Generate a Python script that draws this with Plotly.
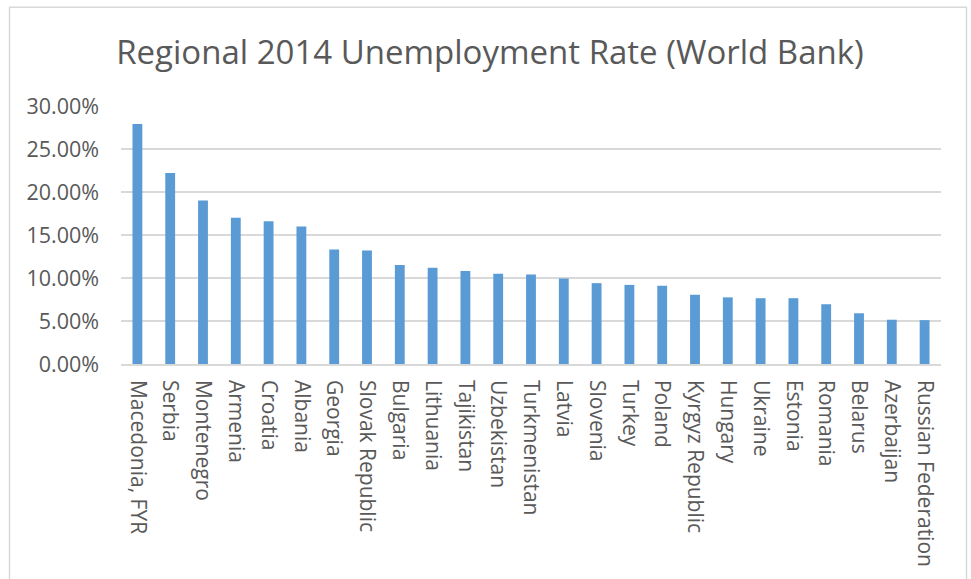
import plotly.graph_objects as go

countries = ["Macedonia, FYR", "Serbia", "Montenegro", "Armenia", "Croatia", "Albania",
             "Georgia", "Slovak Republic", "Bulgaria", "Lithuania", "Tajikistan",
             "Uzbekistan", "Turkmenistan", "Latvia", "Slovenia", "Turkey", "Poland",
             "Kyrgyz Republic", "Hungary", "Ukraine", "Estonia", "Romania", "Belarus",
             "Azerbaijan", "Russian Federation"]
rates = [0.279, 0.222, 0.190, 0.170, 0.166, 0.160, 0.133, 0.132, 0.115, 0.112, 0.108,
         0.105, 0.104, 0.0995, 0.094, 0.092, 0.091, 0.0805, 0.0775, 0.0765, 0.0765,
         0.0695, 0.059, 0.0515, 0.051]
y_ticks = [0, 0.05, 0.10, 0.15, 0.20, 0.25, 0.30]
title_text = "Regional 2014 Unemployment Rate (World Bank)"

TXT = "#595959"
GRID = "#D9D9D9"
FONT = "Open Sans"

W, H = 971, 579
L, R, T, B = 121, 30, 106, 214.5
pw = W - L - R
ph = H - T - B

fig = go.Figure(go.Bar(x=countries, y=rates, marker=dict(color="#5B9BD5", line=dict(width=0)),
                       width=0.3))

fig.update_layout(
    width=W, height=H,
    margin=dict(l=L, r=R, t=T, b=B, pad=0),
    paper_bgcolor="white", plot_bgcolor="white",
    showlegend=False,
    font=dict(family=FONT, color=TXT),
    title=dict(text=title_text, x=490 / W, xref="container", xanchor="center",
               y=1 - 52 / H, yref="container", yanchor="middle",
               font=dict(family=FONT, size=33, color=TXT)),
    xaxis=dict(type="category", tickangle=90, showgrid=False, showline=True,
               linecolor=GRID, linewidth=1.5, ticks="", ticklabelstandoff=10,
               automargin=False,
               tickfont=dict(family=FONT, size=21, color=TXT), range=[-0.5, 24.5]),
    yaxis=dict(range=[0, 0.30], tickvals=y_ticks, tickformat=".2%", showgrid=True,
               gridcolor=GRID, gridwidth=1.5, zeroline=False, showline=False, ticks="",
               automargin=False,
               ticklabelstandoff=21, tickfont=dict(family=FONT, size=21.5, color=TXT)),
    shapes=[dict(type="rect", xref="paper", yref="paper",
                 x0=(9.5 - L) / pw, x1=(966.5 - L) / pw,
                 y0=-2, y1=(H - B - 7) / ph,
                 line=dict(color="#D9D9D9", width=1.5), fillcolor="rgba(0,0,0,0)",
                 layer="above")],
)

fig.write_html(
    "out.html",
    config={"displayModeBar": False},
    post_script="document.body.style.margin='0';document.body.style.overflow='hidden';",
)
